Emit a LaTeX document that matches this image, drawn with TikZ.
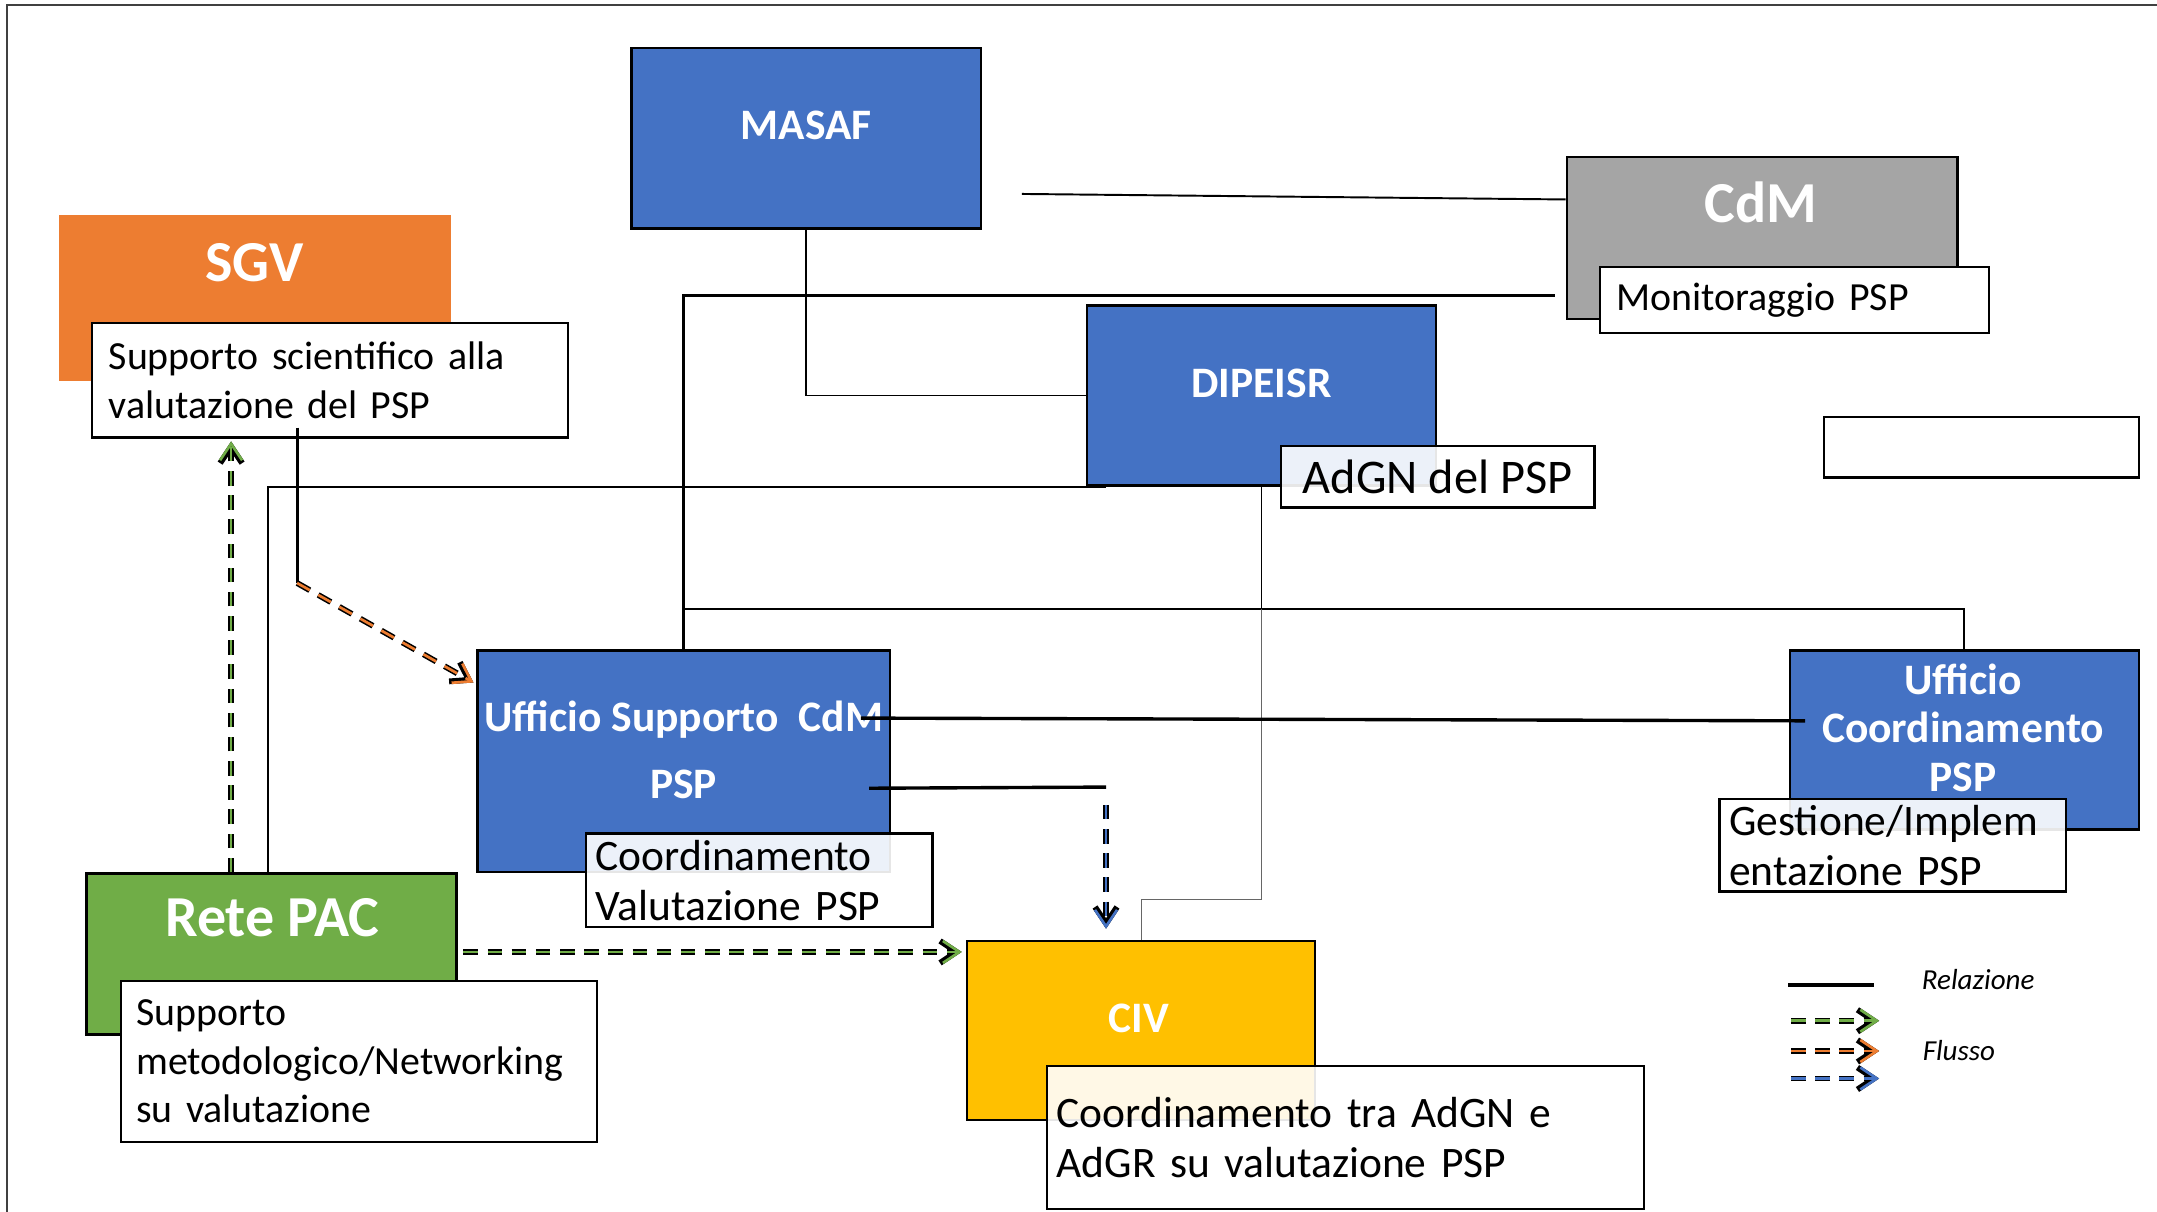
\documentclass[tikz,border=0pt]{standalone}
\usepackage{fontspec}
\setmainfont{Carlito}
\usepackage{tikz}
\usetikzlibrary{positioning, arrows.meta}
\definecolor{cBlue}{HTML}{4472C4}
\definecolor{cOrange}{HTML}{ED7D31}
\definecolor{cGray}{HTML}{A5A5A5}
\definecolor{cGreen}{HTML}{70AD47}
\definecolor{cYellow}{HTML}{FFC000}

\begin{document}
\begin{tikzpicture}[
    x=0.02cm, y=-0.02cm,
    % GLOBAL CFG
    >={Straight Barb[length=2.4mm, width=3.2mm]},
    % Styles
    blk/.style={% coloured boxes
        rectangle,
        draw,
        line width=1pt,
        inner sep=0pt,
        },
    ttl/.style={% white titles
        text=white,
        align=center,
        font=\bfseries\fontsize{18}{20}\selectfont,
        },
    bigttl/.style={% larger white titles
        text=white,
        font=\bfseries\fontsize{24}{28}\selectfont,
        },
    txt/.style={% white text boxes
        rectangle,
        draw,
        line width=1pt,
        fill=white,
        align=left,
        inner xsep=.24cm,
        inner ysep=0pt,
        font=\fontsize{16.5}{20}\selectfont,
        },
    txtL/.style={% same, bigger text, see-through fill
        txt,
        fill opacity=.9,
        text opacity=1,
        font=\fontsize{18}{20.5}\selectfont,
        },
    leg/.style={% legend text
        font=\itshape\fontsize{12}{14}\selectfont,
        },
    rel/.style={line width=.8pt},
    relB/.style={line width=1.4pt},
    flow/.style={% dashed arrows, black outline
        ->,
        line width=2.4pt,
        dash pattern=on 6pt off 4pt,
        postaction={draw=#1, line width=1.1pt},
        },
    ]
    \useasboundingbox (0,0) rectangle (1568,881);

    % frame
    \draw[line width=1pt, black!75] (5,881) -- (5,3.5) -- (1568,3.5);

    % Coloured boxes
    \node[blk, fill=cBlue, minimum width=5.08cm, minimum height=2.62cm] (masaf) at (586,100.5) {};
    \node[ttl] (masaf-t) at (586,91) {MASAF};

    \node[blk, fill=cGray, minimum width=5.68cm, minimum height=2.36cm] (cdm) at (1281,173) {};
    \node[bigttl] (cdm-t) at (1280,147) {CdM};

    \node[blk, fill=cOrange, draw=cOrange, minimum width=5.66cm, minimum height=2.38cm] (sgv) at (185.5,216.5) {};
    \node[bigttl] (sgv-t) at (185,191) {SGV};

    \node[blk, fill=cBlue, minimum width=5.08cm, minimum height=2.62cm] (dip) at (917,287.5) {};
    \node[ttl] (dip-t) at (917,279) {DIPEISR};

    \node[blk, fill=cBlue, minimum width=6cm, minimum height=3.22cm] (usc) at (497,553.5) {};
    \node[ttl, font=\bfseries\fontsize{18}{28}\selectfont] (usc-t) at (497,545) {Ufficio Supporto\ \ CdM\\PSP};

    \node[blk, fill=cBlue, minimum width=5.08cm, minimum height=2.6cm] (uco) at (1428,538) {};
    \node[ttl] (uco-t) at (1427,529) {Ufficio\\Coordinamento\\PSP};

    \node[blk, fill=cGreen, minimum width=5.38cm, minimum height=2.34cm] (rete) at (197.5,693.5) {};
    \node[bigttl] (rete-t) at (198,667) {Rete PAC};

    \node[blk, fill=cYellow, minimum width=5.06cm, minimum height=2.6cm] (civ) at (829.5,749) {};
    \node[ttl] (civ-t) at (828,740) {CIV};

    % Text boxes
    \node[txt, minimum width=5.66cm, minimum height=.96cm, text width=5.18cm] (mon) at (1304.5,218) {Monitoraggio PSP};
    \node[txt, minimum width=6.92cm, minimum height=1.66cm, text width=6.44cm] (sgvtxt) at (240,276.5) {Supporto scientifico alla\\valutazione del PSP};
    \node[txtL, font=\fontsize{20}{24}\selectfont, inner xsep=0pt, minimum width=4.56cm, minimum height=.9cm] (adgn) at (1045,346.5) {AdGN del PSP};
    \node[txt, minimum width=4.58cm, minimum height=.88cm] (vuoto) at (1440.5,325) {};
    \node[txtL, inner xsep=.14cm, minimum width=5.04cm, minimum height=1.36cm, text width=4.76cm] (coordv) at (552,640) {Coordinamento\\Valutazione PSP};
    \node[txtL, inner xsep=.14cm, minimum width=5.04cm, minimum height=1.34cm, text width=4.76cm] (gest) at (1376,614.5) {Gestione/Implem\\entazione PSP};
    \node[txt, inner xsep=.22cm, minimum width=6.92cm, minimum height=2.34cm, text width=6.48cm] (retetxt) at (261,771.5) {Supporto\\metodologico/Networking\\su valutazione};
    \node[txtL, inner xsep=.14cm, minimum width=8.68cm, minimum height=2.08cm, text width=8.4cm] (civtxt) at (978,827) {Coordinamento tra AdGN e\\AdGR su valutazione PSP};

    % Relations
    \draw[rel] ([xshift=.58cm, yshift=-.81cm]masaf.east) -- ([yshift=.56cm]cdm.west);
    \draw[relB] (usc.north) |- ([xshift=-.16cm, yshift=.36cm]cdm.south west);
    \draw[rel] (masaf.south) |- (dip.west);
    \draw[rel] ([xshift=-.05cm]rete.north) |- ([xshift=.3cm]dip.south west);
    \draw[rel] (dip.south) -- ([yshift=-1.78cm]dip.south) coordinate (bus);
    \draw[rel] (usc.north |- bus) -- (uco.north |- bus) -- (uco.north);
    \draw[line width=.5pt, black!60] (bus) -- ++(0,211) -| (civ.north);
    \draw[relB] ([xshift=-.44cm, yshift=.63cm]usc.east) -- ([xshift=.24cm, yshift=.28cm]uco.west);
    \draw[relB] ([xshift=-.32cm, yshift=-.39cm]usc.east) -- ([xshift=-.51cm, yshift=2.22cm]civ.north);
    \draw[rel, line width=1.2pt] ([xshift=-.48cm, yshift=.16cm]sgvtxt.south) -- ([xshift=-.48cm, yshift=-2.1cm]sgvtxt.south) coordinate (bend);

    % Flows
    \draw[flow=cOrange] (bend) -- ([xshift=-.04cm, yshift=-.48cm]usc.north west);
    \draw[flow=cGreen] ([xshift=-.59cm]rete.north) -- ([xshift=-.59cm, yshift=-.04cm]rete.north |- sgvtxt.south);
    \draw[flow=cGreen] ([xshift=.08cm, yshift=.03cm]rete.east) -- ([xshift=-.06cm, yshift=.03cm]civ.west |- rete.east);
    \draw[flow=cBlue] ([xshift=-.51cm, yshift=1.96cm]civ.north) -- ([xshift=-.51cm, yshift=.16cm]civ.north);

    % Legend
    \node[leg] (relaz) at (1438,712) {Relazione};
    \node[leg] (flusso) at (1424,764) {Flusso};
    \draw[line width=1.5pt] ([xshift=-2.76cm, yshift=-.08cm]relaz.center) -- ++(62,0);
    \foreach \c/\dy in {cGreen/.44cm, cOrange/0cm, cBlue/-.4cm}
        \draw[flow=\c] ([xshift=-2.44cm, yshift=\dy]flusso.center) -- ++(64,0);

\end{tikzpicture}
\end{document}
